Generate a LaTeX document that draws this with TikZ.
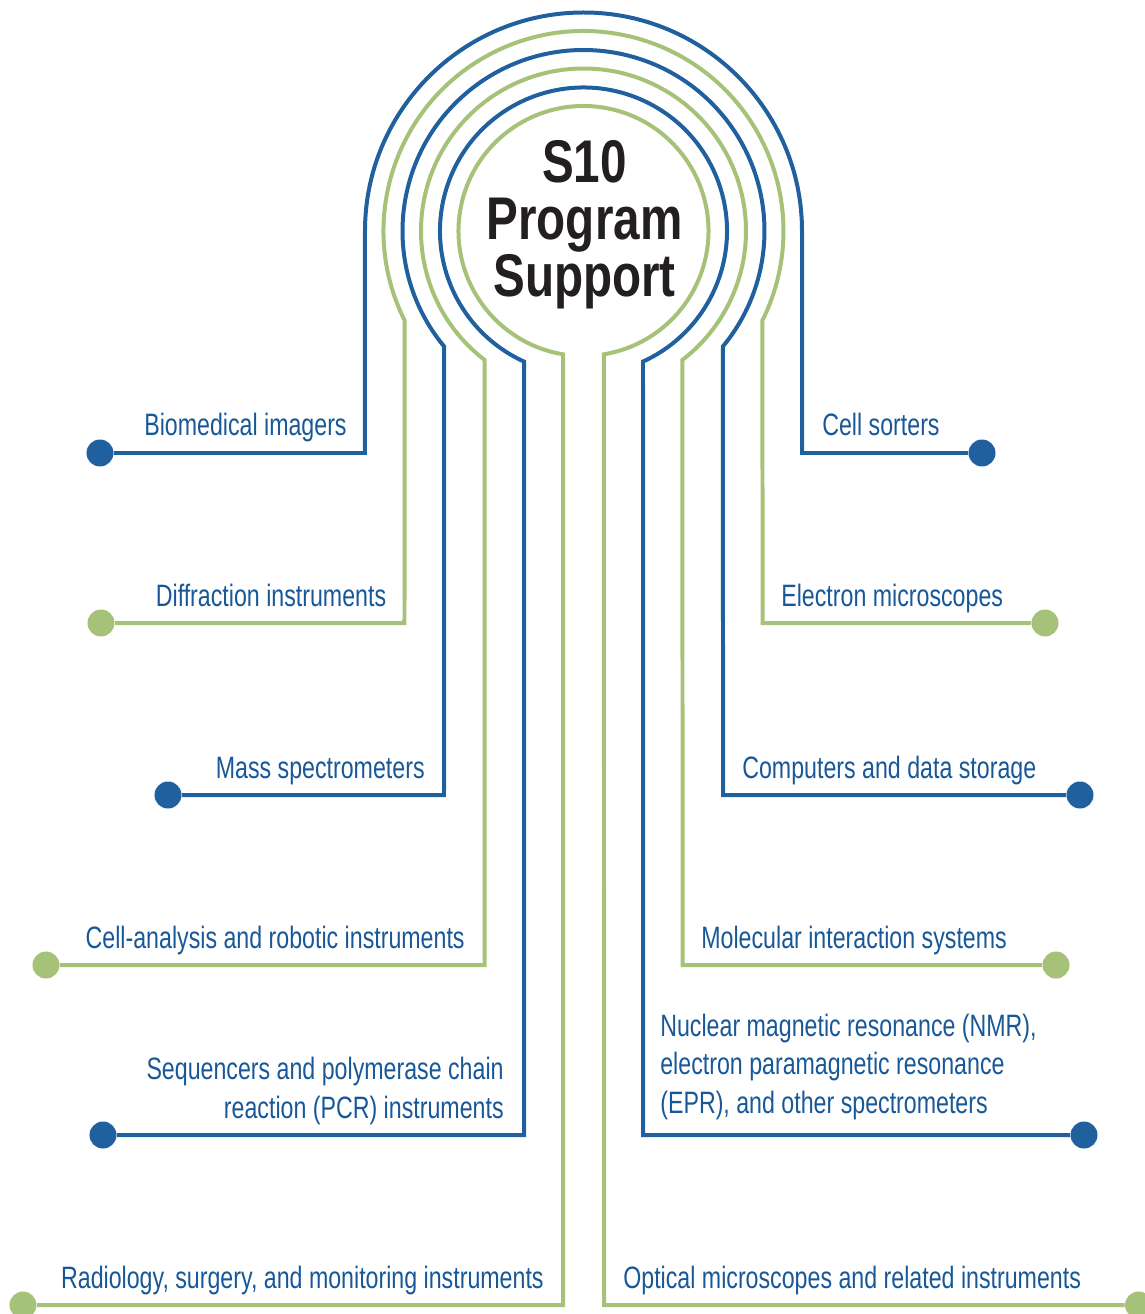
\documentclass[tikz,border=0pt]{standalone}
\usepackage{fontspec}
\setmainfont[FakeStretch=0.75]{Liberation Sans}
\newfontfamily\titlefamily[FakeStretch=0.79]{Liberation Sans}
\definecolor{ringblue}{RGB}{33,96,158}
\definecolor{ringgreen}{RGB}{166,194,120}
\definecolor{labelblue}{RGB}{24,88,152}
\definecolor{titleblack}{RGB}{35,31,32}
\newcommand\labelfont{\fontsize{17.6}{21.9}\selectfont}
\newcommand\bigtitlefont{\titlefamily\fontsize{34.3}{32.4}\selectfont\bfseries}
\tikzset{
  blueline/.style={draw=ringblue, line width=0.08cm},
  greenline/.style={draw=ringgreen, line width=0.08cm},
  bluedot/.style={circle, fill=ringblue, inner sep=0pt, minimum size=0.54cm},
  greendot/.style={circle, fill=ringgreen, inner sep=0pt, minimum size=0.54cm},
  leftlabel/.style={anchor=base east, inner sep=0pt, text=labelblue, font=\labelfont, align=right},
  rightlabel/.style={anchor=base west, inner sep=0pt, text=labelblue, font=\labelfont, align=left},
  titletext/.style={inner sep=0pt, text=titleblack, font=\bigtitlefont, align=center}
}
\begin{document}
\begin{tikzpicture}[x=0.02cm,y=0.02cm]
\useasboundingbox (-583.5,231) rectangle (561.5,-1083);
\clip (-583.5,231) rectangle (561.5,-1083);

\node[titletext] (title) at (1,6) {S10\\Program\\Support};

\node[bluedot] (bioDot) at (-483.5,-222) {};   \coordinate (bioCorner) at (-218.5,-222);
\node[bluedot] (sortDot) at (398.5,-222) {};   \coordinate (sortCorner) at (218.5,-222);
\node[greendot] (diffDot) at (-482.5,-392) {}; \coordinate (diffCorner) at (-179,-392);
\node[greendot] (elecDot) at (461.5,-392) {};  \coordinate (elecCorner) at (179,-392);
\node[bluedot] (massDot) at (-415.5,-564) {};  \coordinate (massCorner) at (-139.5,-564);
\node[bluedot] (compDot) at (496.5,-564) {};   \coordinate (compCorner) at (139.5,-564);
\node[greendot] (cellDot) at (-537.5,-734) {}; \coordinate (cellCorner) at (-99,-734);
\node[greendot] (moleDot) at (472.5,-734) {};  \coordinate (moleCorner) at (99,-734);
\node[bluedot] (seqDot) at (-480.5,-904) {};   \coordinate (seqCorner) at (-59.5,-904);
\node[bluedot] (nmrDot) at (500.5,-904) {};    \coordinate (nmrCorner) at (59.5,-904);
\node[greendot] (radDot) at (-560.5,-1074) {}; \coordinate (radCorner) at (-20.5,-1074);
\node[greendot] (optDot) at (555,-1074) {};    \coordinate (optCorner) at (20.5,-1074);

\draw[blueline] (bioDot) -- (bioCorner) -- (180:218.5) arc[start angle=180, end angle=0, radius=218.5] -- (sortCorner) -- (sortDot);
\draw[greenline] (diffDot) -- (diffCorner) -- ({180+acos(179/200)}:200) arc[start angle={180+acos(179/200)}, end angle={-acos(179/200)}, radius=200] -- (elecCorner) -- (elecDot);
\draw[blueline] (massDot) -- (massCorner) -- ({180+acos(139.5/181)}:181) arc[start angle={180+acos(139.5/181)}, end angle={-acos(139.5/181)}, radius=181] -- (compCorner) -- (compDot);
\draw[greenline] (cellDot) -- (cellCorner) -- ({180+acos(99/162.5)}:162.5) arc[start angle={180+acos(99/162.5)}, end angle={-acos(99/162.5)}, radius=162.5] -- (moleCorner) -- (moleDot);
\draw[blueline] (seqDot) -- (seqCorner) -- ({180+acos(59.5/143.5)}:143.5) arc[start angle={180+acos(59.5/143.5)}, end angle={-acos(59.5/143.5)}, radius=143.5] -- (nmrCorner) -- (nmrDot);
\draw[greenline] (radDot) -- (radCorner) -- ({180+acos(20.5/125)}:125) arc[start angle={180+acos(20.5/125)}, end angle={-acos(20.5/125)}, radius=125] -- (optCorner) -- (optDot);

\node[leftlabel] (bioText) at (-236.5,-205) {Biomedical imagers};
\node[leftlabel] (diffText) at (-197,-375) {Diffraction instruments};
\node[leftlabel] (massText) at (-158.5,-547) {Mass spectrometers};
\node[leftlabel] (cellText) at (-118.5,-717) {Cell-analysis and robotic instruments};
\node[leftlabel] (seqText) at (-79.5,-887) {Sequencers and polymerase chain\\reaction (PCR) instruments};
\node[leftlabel] (radText) at (-39.5,-1057) {Radiology, surgery, and monitoring instruments};
\node[rightlabel] (sortText) at (238.5,-205) {Cell sorters};
\node[rightlabel] (elecText) at (197.5,-375) {Electron microscopes};
\node[rightlabel] (compText) at (158.5,-547) {Computers and data storage};
\node[rightlabel] (moleText) at (117.5,-717) {Molecular interaction systems};
\node[rightlabel] (nmrText) at (76.5,-882) {Nuclear magnetic resonance (NMR),\\electron paramagnetic resonance\\(EPR), and other spectrometers};
\node[rightlabel] (optText) at (39.5,-1057) {Optical microscopes and related instruments};
\end{tikzpicture}
\end{document}
